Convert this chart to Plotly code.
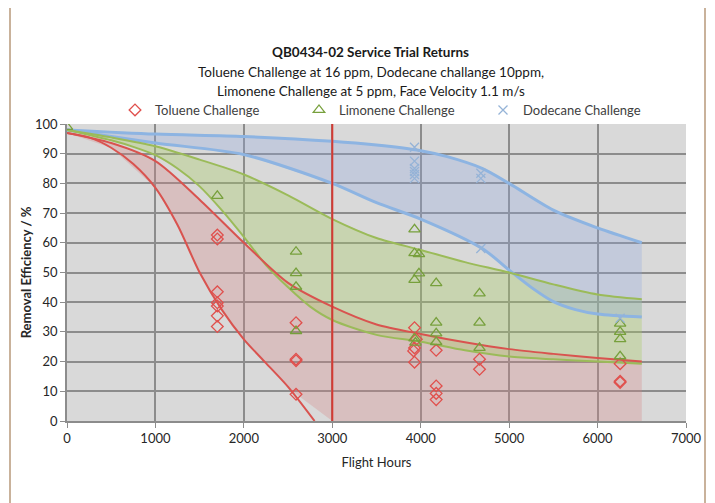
import plotly.graph_objects as go

# ---------------- data ----------------
# trend-band curves (flight hours, removal efficiency %)
tol_upper_x = [0, 500, 1000, 1500, 2000, 2500, 3000, 3500, 4000, 4500, 5000, 5500, 6000, 6500]
tol_upper_y = [97, 93.6, 87.5, 74.5, 60, 46.5, 38.5, 32.5, 29.3, 26.5, 24.2, 22.6, 21.2, 20]
tol_lower_x = [0, 250, 500, 750, 1000, 1250, 1500, 1750, 2000, 2250, 2500, 2800]
tol_lower_y = [97, 95.5, 92, 86.5, 78.5, 66, 50, 37.5, 27.5, 19.5, 11.5, 0]
tol_fill_lower_x = [0, 500, 1000, 1250, 1500, 1750, 2000, 2250, 2550, 3000, 6500]
tol_fill_lower_y = [97, 92, 78.5, 66, 50, 37.5, 27.5, 19.5, 10, 0, 0]

lim_upper_x = [0, 500, 1000, 1500, 2000, 2500, 3000, 3500, 4000, 4500, 5000, 5500, 6000, 6500]
lim_upper_y = [98, 95.5, 92.5, 88, 83, 76, 68, 61.6, 57.6, 53.5, 50, 46, 42.6, 41]
lim_lower_x = [0, 500, 750, 1000, 1250, 1500, 1750, 2000, 2250, 2500, 2750, 3000, 3500, 4000, 4500, 5000, 5500, 6000, 6500]
lim_lower_y = [98, 94.5, 92.3, 89.5, 85, 79, 71, 62, 52.5, 45, 38.5, 34, 29, 26.7, 23.8, 21.7, 20.8, 20, 19.3]

dod_upper_x = [0, 1000, 2000, 3000, 3500, 4000, 4300, 4700, 5000, 5500, 6000, 6500]
dod_upper_y = [98, 96.6, 95.8, 94.2, 92.9, 91, 89, 85, 80, 71, 65, 60]
dod_lower_x = [0, 1000, 2000, 3000, 3500, 4000, 4700, 5000, 5250, 5500, 5750, 6000, 6500]
dod_lower_y = [98, 93.6, 89.7, 80, 73.5, 68, 58, 50.8, 45, 40.2, 37.5, 36, 35]

# measured returns
tol_x = [1700, 1700, 1700, 1700, 1700, 1700, 1700,
         2590, 2590, 2590, 2590,
         3930, 3950, 3930, 3920, 3930,
         4175, 4175, 4175, 4175,
         4665, 4665,
         6255, 6255, 6255]
tol_y = [62.6, 61.3, 43.5, 39.8, 38.7, 35.4, 31.8,
         33.1, 20.8, 20.3, 9.0,
         31.4, 27.5, 24.6, 23.6, 19.8,
         23.8, 11.8, 9.3, 7.2,
         20.8, 17.4,
         19.3, 13.4, 13.0]

lim_x = [0, 1700,
         2590, 2590, 2590, 2590,
         3930, 3930, 3980, 3980, 3930, 3930, 3940,
         4175, 4175, 4175, 4175,
         4665, 4665, 4665,
         6255, 6255, 6255, 6255]
lim_y = [99, 75.8,
         57, 49.8, 45.2, 30.3,
         64.5, 56.5, 56.2, 49.7, 47.5, 27.8, 26.4,
         46.4, 33.1, 29.5, 26.6,
         43, 33.1, 24.6,
         32.8, 30, 27.6, 21.8]

dod_x = [3930, 3930, 3930, 3930, 3930, 3930, 4680, 4680, 4680, 6255]
dod_y = [92.2, 87.5, 85, 84, 83, 81.7, 83.4, 81.7, 58.1, 34.6]

reference_hours = 3000

x_ticks = [0, 1000, 2000, 3000, 4000, 5000, 6000, 7000]
y_ticks = [0, 10, 20, 30, 40, 50, 60, 70, 80, 90, 100]

# ---------------- styles ----------------
RED = "#d9534f"
GREEN = "#9bbb59"
BLUE = "#8db4e2"
FONT = "Lato"

fig = go.Figure()

# bands (fills)
fig.add_trace(go.Scatter(
    x=tol_upper_x + tol_fill_lower_x[::-1],
    y=tol_upper_y + tol_fill_lower_y[::-1],
    fill="toself", fillcolor="rgba(214,134,134,0.30)",
    line=dict(width=0), mode="lines", showlegend=False, hoverinfo="skip"))
fig.add_trace(go.Scatter(
    x=lim_upper_x + lim_lower_x[::-1],
    y=lim_upper_y + lim_lower_y[::-1],
    fill="toself", fillcolor="rgba(168,203,100,0.35)",
    line=dict(width=0), mode="lines", showlegend=False, hoverinfo="skip"))
fig.add_trace(go.Scatter(
    x=dod_upper_x + dod_lower_x[::-1],
    y=dod_upper_y + dod_lower_y[::-1],
    fill="toself", fillcolor="rgba(140,165,225,0.28)",
    line=dict(width=0), mode="lines", showlegend=False, hoverinfo="skip"))

# band edge lines
for xs, ys, c, w in [
    (dod_upper_x, dod_upper_y, BLUE, 3), (dod_lower_x, dod_lower_y, BLUE, 3),
    (lim_upper_x, lim_upper_y, GREEN, 2), (lim_lower_x, lim_lower_y, GREEN, 2),
    (tol_upper_x, tol_upper_y, RED, 2), (tol_lower_x, tol_lower_y, RED, 2),
]:
    fig.add_trace(go.Scatter(x=xs, y=ys, mode="lines",
                             line=dict(color=c, width=w, shape="spline", smoothing=0.8),
                             showlegend=False, hoverinfo="skip"))

# reference vertical line at 3000 h
fig.add_trace(go.Scatter(x=[reference_hours, reference_hours], y=[y_ticks[0], y_ticks[-1]],
                         mode="lines", line=dict(color="#d43a33", width=2),
                         showlegend=False, hoverinfo="skip"))

# measured points (each in its own legend so the entries can be placed like the original)
fig.add_trace(go.Scatter(x=tol_x, y=tol_y, mode="markers", name="Toluene Challenge",
                         legend="legend",
                         marker=dict(symbol="diamond-open", size=9, color="#e0504d",
                                     line=dict(width=1.3))))
fig.add_trace(go.Scatter(x=lim_x, y=lim_y, mode="markers", name="Limonene Challenge",
                         legend="legend2",
                         marker=dict(symbol="triangle-up-open", size=10, color="#77a03c",
                                     line=dict(width=1.3))))
fig.add_trace(go.Scatter(x=dod_x, y=dod_y, mode="markers", name="Dodecane Challenge",
                         legend="legend3",
                         marker=dict(symbol="x-thin-open", size=9, color="#95b3d7",
                                     line=dict(width=1.3, color="#95b3d7"))))

# page body adds an 8px offset; work in reference-pixel coordinates
OFF = 8
W, H = 715 - OFF, 503 - OFF
L, R, T, B = 67 - OFF, 29, 124 - OFF, 82
pw, ph = W - L - R, H - T - B

def px(xp):
    return (xp - OFF - L) / pw

def py(yp):
    return (H - B - (yp - OFF)) / ph

leg_common = dict(orientation="h", yanchor="middle", xanchor="left", itemwidth=30,
                  font=dict(size=13, color="#404040"), bgcolor="rgba(0,0,0,0)",
                  borderwidth=0)

fig.update_layout(
    width=W, height=H,
    margin=dict(l=L, r=R, t=T, b=B, autoexpand=False),
    paper_bgcolor="white",
    plot_bgcolor="#d9d9d9",
    font=dict(family=FONT, size=13, color="#262626"),
    showlegend=True,
    legend=dict(x=px(115), y=py(110), **leg_common),
    legend2=dict(x=px(299), y=py(110), **leg_common),
    legend3=dict(x=px(483), y=py(110), **leg_common),
    xaxis=dict(range=[0, 7000], tickvals=x_ticks, showgrid=True, gridcolor="#8c8c8c",
               gridwidth=1.5, zeroline=False, showline=True, linecolor="#8c8c8c",
               linewidth=1.5, ticks="outside", ticklen=5, tickcolor="#8c8c8c",
               automargin=False,
               tickfont=dict(size=13, color="#262626"),
               title=dict(text="Flight Hours", font=dict(size=13, color="#262626"), standoff=13)),
    yaxis=dict(range=[0, 100], tickvals=y_ticks, showgrid=True, gridcolor="#8c8c8c",
               gridwidth=1.5, zeroline=False, showline=True, linecolor="#8c8c8c",
               linewidth=1.5, ticks="outside", ticklen=5, tickcolor="#8c8c8c",
               automargin=False,
               tickfont=dict(size=13, color="#262626"),
               title=dict(text="<b>Removal Efficiency / %</b>",
                          font=dict(size=13, color="#262626"), standoff=0)),
    annotations=[
        dict(text="<b>QB0434-02 Service Trial Returns</b>", x=px(370), y=py(52),
             xref="paper", yref="paper", xanchor="center", yanchor="middle", showarrow=False,
             font=dict(size=13.5, color="#1a1a1a")),
        dict(text="Toluene Challenge at 16 ppm, Dodecane challange 10ppm,", x=px(371), y=py(72),
             xref="paper", yref="paper", xanchor="center", yanchor="middle", showarrow=False,
             font=dict(size=13.5, color="#1a1a1a")),
        dict(text="Limonene Challenge at 5 ppm, Face Velocity 1.1 m/s", x=px(371), y=py(91),
             xref="paper", yref="paper", xanchor="center", yanchor="middle", showarrow=False,
             font=dict(size=13.5, color="#1a1a1a")),
    ],
    shapes=[
        dict(type="line", xref="paper", yref="paper", x0=px(10), x1=px(10), y0=py(503), y1=py(0),
             line=dict(color="#c9b29b", width=2)),
        dict(type="line", xref="paper", yref="paper", x0=px(705), x1=px(705), y0=py(503), y1=py(0),
             line=dict(color="#c9b29b", width=2)),
    ],
)

fig.write_html("out.html")
